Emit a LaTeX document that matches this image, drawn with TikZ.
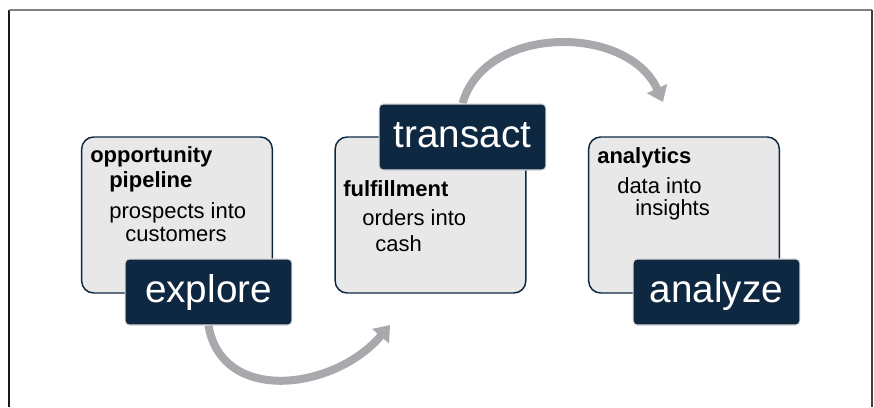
\documentclass[tikz,border=0pt]{standalone}
\usepackage{fontspec}
\setmainfont{Liberation Sans}
\usetikzlibrary{arrows.meta,backgrounds}
\definecolor{navy}{HTML}{0E2841}
\definecolor{panelfill}{HTML}{E8E8E8}
\definecolor{arrowgray}{HTML}{A9A9AD}
\definecolor{rimgray}{HTML}{D9D9D9}
\begin{document}
\begin{tikzpicture}[x=0.75pt,y=-0.75pt,
  panel/.style={draw=navy, line width=1.1pt, fill=panelfill, rounded corners=9pt,
    minimum width=143pt, minimum height=117pt, inner sep=0pt},
  stage/.style={fill=navy, draw=rimgray, line width=0.8pt, rounded corners=3pt,
    minimum width=125pt, minimum height=49.5pt, inner sep=0pt, text=white,
    text height=21pt, text depth=6pt, font=\fontsize{29}{34}\selectfont},
  heading/.style={anchor=base west, inner sep=0pt, font=\fontsize{16.5}{19}\selectfont\bfseries},
  body/.style={anchor=base west, inner sep=0pt, font=\fontsize{16.5}{19}\selectfont},
  cyclearrow/.style={draw=arrowgray, line width=6pt, -{Triangle[length=11pt,width=16pt]}}]
\useasboundingbox (0,0) rectangle (874,407);

% outer frame (open at the bottom)
\draw[line width=1.2pt, black!90] (9,407) -- (9,10);
\draw[line width=1.2pt, black!50] (9,10) -- (872,10);
\draw[line width=1.2pt, black!75] (872,10) -- (872,407);

% light panels
\node[panel] (p1) at (177,215) {};
\node[panel] (p2) at (430.5,215) {};
\node[panel] (p3) at (684,215) {};

% panel texts
\node[heading] (t1a) at (90,162) {opportunity};
\node[heading] (t1b) at (109,187) {pipeline};
\node[body] (t1c) at (109,218) {prospects into};
\node[body] (t1d) at (125,241) {customers};

\node[heading] (t2a) at (343,196) {fulfillment};
\node[body] (t2b) at (362,225) {orders into};
\node[body] (t2c) at (375,251) {cash};

\node[heading] (t3a) at (597,163) {analytics};
\node[body] (t3b) at (617,193) {data into};
\node[body] (t3c) at (635,215) {insights};

% stage labels
\node[stage] (explore) at (208.5,292) {explore};
\node[stage] (transact) at (462.5,137) {transact};
\node[stage] (analyze) at (716.5,292) {analyze};

% arrow end points
\coordinate (tipA) at (390,325);
\coordinate (tipB) at (663,102);

% cycle arrows, tucked behind the stage labels
\begin{scope}[on background layer]
  \draw[cyclearrow] (explore.south) .. controls (222,405) and (335,390) .. (tipA);
  \draw[cyclearrow] (transact.north) .. controls (485,24) and (628,24) .. (tipB);
\end{scope}
\end{tikzpicture}
\end{document}
